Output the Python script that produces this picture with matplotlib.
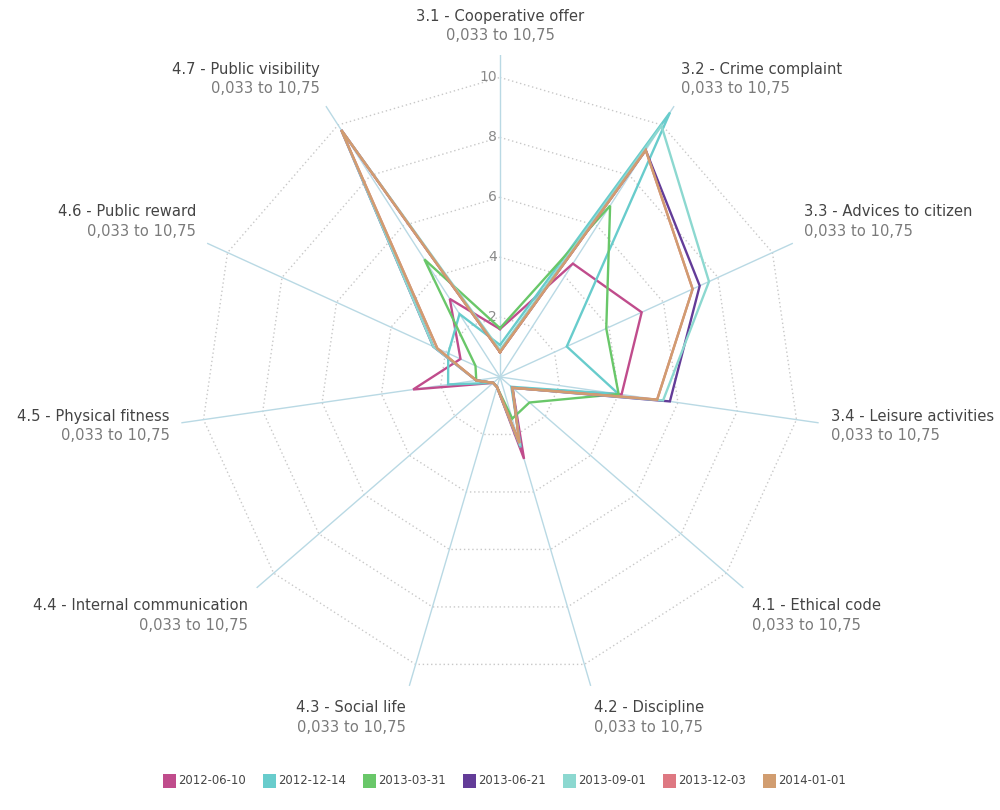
import numpy as np
import matplotlib
matplotlib.use("Agg")
import matplotlib.pyplot as plt
from matplotlib.patches import Rectangle

categories = ["3.1 - Cooperative offer", "3.2 - Crime complaint", "3.3 - Advices to citizen",
              "3.4 - Leisure activities", "4.1 - Ethical code", "4.2 - Discipline",
              "4.3 - Social life", "4.4 - Internal communication", "4.5 - Physical fitness",
              "4.6 - Public reward", "4.7 - Public visibility"]
range_label = "0,033 to 10,75"
r_min, r_max = 0.033, 10.75
ring_ticks = [2, 4, 6, 8, 10]

series_names = ["2012-06-10", "2012-12-14", "2013-03-31", "2013-06-21",
                "2013-09-01", "2013-12-03", "2014-01-01"]
s_2012_06_10 = [1.60, 4.50, 5.20, 4.10, 0.55, 2.85, 0.35, 0.30, 2.93, 1.45, 3.10]
s_2012_12_14 = [1.07, 10.5, 2.45, 4.00, 0.50, 2.45, 0.35, 0.30, 1.75, 1.90, 2.50]
s_2013_03_31 = [1.63, 6.80, 3.90, 4.00, 1.30, 1.45, 0.35, 0.30, 0.80, 0.90, 4.67]
s_2013_06_21 = [0.83, 9.00, 7.33, 5.73, 0.55, 2.40, 0.35, 0.30, 0.80, 2.45, 9.80]
s_2013_09_01 = [0.90, 9.97, 7.67, 5.50, 0.55, 2.40, 0.35, 0.30, 0.80, 2.45, 9.80]
s_2013_12_03 = [0.83, 9.00, 7.07, 5.30, 0.55, 2.30, 0.35, 0.30, 0.80, 2.30, 9.80]
s_2014_01_01 = [0.83, 9.00, 7.07, 5.30, 0.55, 2.30, 0.35, 0.30, 0.80, 2.30, 9.80]
series_values = [s_2012_06_10, s_2012_12_14, s_2013_03_31, s_2013_06_21,
                 s_2013_09_01, s_2013_12_03, s_2014_01_01]
colors = ["#c04c8c", "#68cccc", "#69c769", "#633c98", "#8cd8d0", "#de7882", "#d19d70"]

W, H = 1000, 810
fig = plt.figure(figsize=(W / 100, H / 100), dpi=100)
cx, cy, R = 500, 377, 322
ax = fig.add_axes([(cx - R) / W, (H - cy - R) / H, 2 * R / W, 2 * R / H], projection="polar")
ax.set_theta_zero_location("N")
ax.set_theta_direction(-1)
ax.set_ylim(0, r_max)
ax.grid(False)
ax.spines["polar"].set_visible(False)
ax.set_xticks([])
ax.set_yticks([])
ax.patch.set_alpha(0)

n = len(categories)
theta = np.arange(n) * 2 * np.pi / n
theta_closed = np.append(theta, theta[0])

# rings
for t in ring_ticks:
    ax.plot(theta_closed, [t] * (n + 1), color="#c8c8c8", lw=1.0, ls=(0, (1, 2)), zorder=1)
# spokes
for th in theta:
    ax.plot([th, th], [0, r_max], color="#b9d9e4", lw=1.0, zorder=2)
# tick labels
for t in ring_ticks:
    ax.annotate(str(t), xy=(0, t), xytext=(-2, 0), textcoords="offset points",
                ha="right", va="center", fontsize=10, color="#8a8a8a", zorder=3)

# series
for name, vals, col in zip(series_names, series_values, colors):
    v = np.append(vals, vals[0])
    ax.plot(theta_closed, v, color=col, lw=1.7, zorder=4, solid_joinstyle="miter")

# category labels (pixel offsets converted to points: 1 px = 0.72 pt)
px = 0.72
gap = 12      # px beyond spoke end
half_line = 9.75
for th, cat in zip(theta, categories):
    s, c = np.sin(th), np.cos(th)
    if abs(s) < 0.1:
        ha = "center"
    elif s > 0:
        ha = "left"
    else:
        ha = "right"
    if c > 0.2:
        block_c = 17      # block center above anchor (px)
    elif c < -0.2:
        block_c = -20
    else:
        block_c = -1.5
    dx = gap * s
    dy = gap * c
    for txt, col, off in ((cat, "#444444", half_line), (range_label, "#7a7a7a", -half_line)):
        ax.annotate(txt, xy=(th, r_max), xytext=(dx * px, (dy + block_c + off) * px),
                    textcoords="offset points", ha=ha, va="center", fontsize=10.6,
                    color=col, annotation_clip=False)

# legend
lx0, ly = 163, 781
for i, (name, col) in enumerate(zip(series_names, colors)):
    x = lx0 + i * 100
    fig.add_artist(Rectangle((x / W, (H - ly - 7) / H), 13 / W, 14 / H,
                             transform=fig.transFigure, facecolor=col, edgecolor="none"))
    fig.text((x + 15) / W, (H - ly) / H, name, ha="left", va="center",
             fontsize=8.4, color="#444444")

fig.savefig("out.png", dpi=100, facecolor="white")
